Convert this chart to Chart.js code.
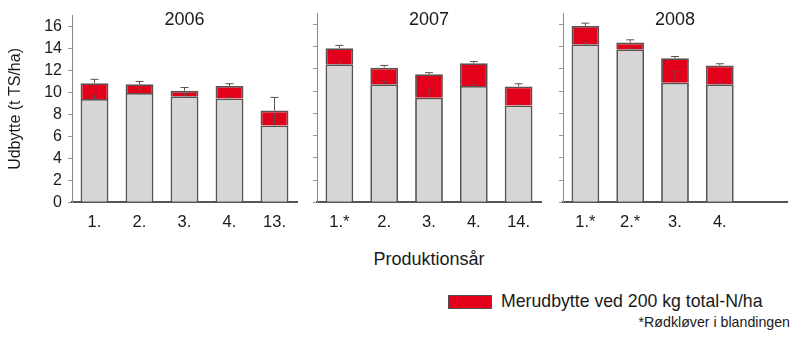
<!DOCTYPE html>
<html lang="da">
<head>
<meta charset="utf-8">
<title>Udbytte pr. produktionsår</title>
<script src="https://cdn.jsdelivr.net/npm/chart.js@4.4.1/dist/chart.umd.min.js"></script>
<style>
  html, body { margin: 0; padding: 0; background: #fff; }
  body { width: 791px; height: 340px; position: relative; overflow: hidden;
         font-family: "Liberation Sans", Arial, sans-serif; color: #1a1a1a; }
  .panel { position: absolute; top: 0; height: 240px; }
  .panel canvas { display: block; }
  #xtitle { position: absolute; left: 329px; width: 200px; top: 249px; text-align: center; font-size: 18px; }
  #legend { position: absolute; left: 448px; top: 291px; display: flex; align-items: center; font-size: 17.7px; white-space: nowrap; }
  #legend .swatch { width: 42px; height: 12px; border: 1px solid #5a4d4d; margin-right: 9px; }
  #note { position: absolute; right: 1px; top: 314px; font-size: 14.2px; white-space: nowrap; }
</style>
</head>
<body>
<div class="panel" style="left:0;width:300px"><canvas id="c2006" width="300" height="240"></canvas></div>
<div class="panel" style="left:305px;width:240px"><canvas id="c2007" width="240" height="240"></canvas></div>
<div class="panel" style="left:551px;width:240px"><canvas id="c2008" width="240" height="240"></canvas></div>
<div id="xtitle">Produktionsår</div>
<div id="legend"><div class="swatch"></div><span>Merudbytte ved 200 kg total-N/ha</span></div>
<div id="note">*Rødkløver i blandingen</div>

<script>
// Years shown as separate panels
const years = ['2006', '2007', '2008'];

// Production year of the ley (x categories per panel)
const labels2006 = ['1.', '2.', '3.', '4.', '13.'];
const labels2007 = ['1.*', '2.', '3.', '4.', '14.'];
const labels2008 = ['1.*', '2.*', '3.', '4.', ''];

// Yield without extra nitrogen (t TS/ha)
const base2006 = [9.4, 9.95, 9.65, 9.45, 7.0];
const base2007 = [12.4, 10.6, 9.4, 10.45, 8.7];
const base2008 = [14.2, 13.75, 10.75, 10.6, null];

// Yield with 200 kg total-N/ha (t TS/ha)
const total2006 = [10.85, 10.75, 10.15, 10.6, 8.35];
const total2007 = [13.85, 12.1, 11.5, 12.5, 10.4];
const total2008 = [15.85, 14.35, 12.95, 12.3, null];

// Standard errors of the two yield levels
const baseErr2006 = [0.3, 0.35, 0.25, 0.1, 1.0];
const baseErr2007 = [0.2, 0.25, 0.7, 0.1, 0.1];
const baseErr2008 = [0.15, 0.1, 1.0, 0.1, null];
const totalErr2006 = [0.35, 0.25, 0.3, 0.2, 1.2];
const totalErr2007 = [0.25, 0.2, 0.15, 0.15, 0.25];
const totalErr2008 = [0.25, 0.25, 0.15, 0.15, null];

// Y axis ticks
const yTicks = [0, 2, 4, 6, 8, 10, 12, 14, 16];
const yMax = 17;

const RED = '#e2001a';
const GREY = '#d6d6d6';
const EDGE = '#5f5050';
const TEXT = '#1a1a1a';
const FONT = '"Liberation Sans", Arial, sans-serif';

document.querySelector('#legend .swatch').style.background = RED;

// Year caption inside each plot
const yearTitle = {
  id: 'yearTitle',
  afterDraw(chart, args, opts) {
    const { ctx, chartArea } = chart;
    ctx.save();
    ctx.font = '18px ' + FONT;
    ctx.fillStyle = TEXT;
    ctx.textAlign = 'center';
    ctx.textBaseline = 'middle';
    ctx.fillText(opts.text, (chartArea.left + chartArea.right) / 2, 20);
    ctx.restore();
  }
};

// Upper error whiskers on the unfertilised level and on the total
const errorBars = {
  id: 'errorBars',
  afterDatasetsDraw(chart, args, opts) {
    const { ctx } = chart;
    const y = chart.scales.y;
    const meta = chart.getDatasetMeta(0);
    ctx.save();
    ctx.strokeStyle = EDGE;
    ctx.lineWidth = 1;
    const whisker = (x, v, e, cap) => {
      if (v == null || e == null) return;
      const y1 = y.getPixelForValue(v);
      const y2 = y.getPixelForValue(v + e);
      ctx.beginPath();
      ctx.moveTo(x, y1); ctx.lineTo(x, y2);
      ctx.moveTo(x - cap, y2); ctx.lineTo(x + cap, y2);
      ctx.stroke();
    };
    meta.data.forEach((bar, i) => {
      const x = bar.x;
      whisker(x, opts.base[i], opts.baseErr[i], 2);
      whisker(x, opts.total[i], opts.totalErr[i], 4);
    });
    ctx.restore();
  }
};

function makePanel(id, year, labels, base, total, baseErr, totalErr, first, padRight) {
  const extra = total.map((t, i) => (t == null ? null : +(t - base[i]).toFixed(2)));
  new Chart(document.getElementById(id), {
    type: 'bar',
    data: {
      labels: labels,
      datasets: [
        { label: 'Uden ekstra N', data: base, backgroundColor: GREY, borderColor: EDGE, borderWidth: 1.8 },
        { label: 'Merudbytte ved 200 kg total-N/ha', data: extra, backgroundColor: RED, borderColor: EDGE, borderWidth: 1.8 }
      ]
    },
    options: {
      responsive: false,
      animation: false,
      events: [],
      layout: { padding: { top: 13.1, left: 0, right: padRight, bottom: 0 } },
      datasets: { bar: { categoryPercentage: 1, barPercentage: 0.62 } },
      plugins: {
        legend: { display: false },
        tooltip: { enabled: false },
        yearTitle: { text: year },
        errorBars: { base, total, baseErr, totalErr }
      },
      scales: {
        x: {
          stacked: true,
          grid: { display: false, drawTicks: false },
          border: { display: true, color: '#555', width: 2 },
          ticks: { padding: 10, color: TEXT, font: { family: FONT, size: 16.5 } },
          afterFit(scale) { scale.height = 37.7; }
        },
        y: {
          stacked: true,
          min: 0,
          max: yMax,
          afterBuildTicks(scale) { scale.ticks = yTicks.map(v => ({ value: v })); },
          grid: { drawOnChartArea: false, tickLength: 4, color: '#999' },
          border: { display: true, color: '#8a8a8a', width: 1 },
          ticks: { display: first, padding: 6, color: TEXT, font: { family: FONT, size: 16 } },
          title: {
            display: first,
            text: 'Udbytte (t TS/ha)',
            color: TEXT,
            font: { family: FONT, size: 16 },
            padding: { top: 6, bottom: 4 }
          },
          afterFit(scale) { scale.width = first ? 72 : 12; }
        }
      }
    },
    plugins: [yearTitle, errorBars]
  });
}

makePanel('c2006', years[0], labels2006, base2006, total2006, baseErr2006, totalErr2006, true, 3);
makePanel('c2007', years[1], labels2007, base2007, total2007, baseErr2007, totalErr2007, false, 4);
makePanel('c2008', years[2], labels2008, base2008, total2008, baseErr2008, totalErr2008, false, 4);
</script>
</body>
</html>
